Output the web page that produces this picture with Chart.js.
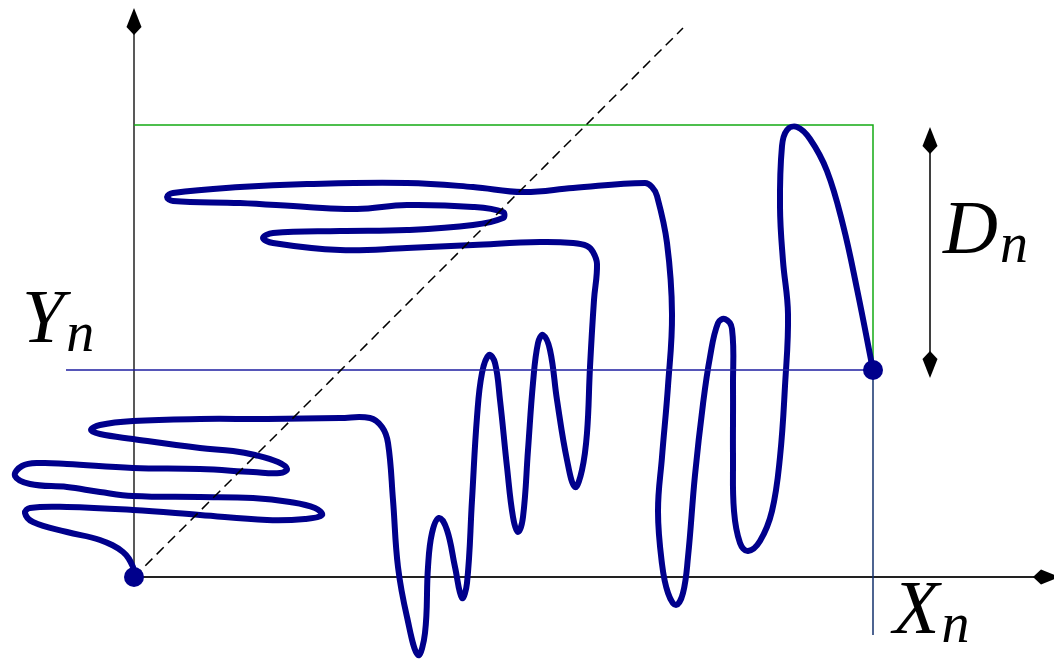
<!DOCTYPE html>
<html>
<head>
<meta charset="utf-8">
<script src="https://cdn.jsdelivr.net/npm/chart.js@4.4.1/dist/chart.umd.min.js"></script>
<style>
  body { margin: 0; background: #fff; }
  #wrap { width: 1054px; height: 661px; }
</style>
</head>
<body>
<div id="wrap"><canvas id="myChart" width="1054" height="661"></canvas></div>
<script>
// ..................................................     DATA     ......................................................

// the wandering path, origin at the lower dot
const pathX = [0, -1, -11, -34, -67, -101, -109, -104, -67, -1, 66, 133, 171, 188, 181, 156, 119, 66, -1, -34, -67, -104, -119, -112, -94, -67, -1, 66, 119, 146, 153, 144, 121, 99, 66, -1, -34, -43, -34, -1, 66, 133, 206, 236, 248, 254, 259, 264, 273, 284, 291, 294, 298, 305, 313, 321, 328, 333, 338, 343, 348, 355, 361, 366, 373, 379, 384, 389, 394, 399, 404, 409, 416, 423, 433, 441, 448, 453, 456, 460, 463, 459, 453, 439, 406, 339, 273, 206, 139, 129, 139, 206, 273, 339, 369, 369, 339, 273, 223, 173, 106, 39, 33, 39, 106, 173, 273, 339, 389, 439, 511, 518, 523, 533, 538, 534, 528, 524, 528, 534, 542, 549, 554, 561, 569, 576, 584, 591, 598, 599, 599, 600, 606, 614, 626, 638, 646, 651, 654, 649, 646, 648, 653, 663, 676, 693, 709, 723, 739];
const pathY = [0, 10, 25, 37, 45, 55, 64, 69, 70, 67, 62, 57, 58, 62, 69, 75, 79, 80, 81, 85, 90, 93, 101, 111, 114, 113, 109, 108, 105, 104, 108, 115, 122, 126, 129, 138, 143, 147, 152, 156, 158, 158, 159, 159, 150, 134, 77, 10, -40, -78, -56, 10, 44, 59, 47, 10, -21, -6, 77, 160, 204, 222, 214, 177, 110, 60, 45, 60, 127, 194, 234, 242, 227, 177, 117, 90, 107, 144, 210, 277, 313, 325, 331, 334, 335, 332, 329, 327, 334, 339, 344, 346, 347, 352, 359, 365, 370, 372, 368, 370, 374, 376, 380, 384, 390, 393, 394, 390, 385, 389, 394, 390, 381, 334, 263, 191, 120, 66, 13, -16, -28, -16, 20, 102, 173, 220, 254, 258, 248, 191, 120, 66, 34, 26, 36, 66, 120, 191, 263, 316, 370, 431, 447, 450, 438, 406, 352, 288, 207];

// X_n, Y_n and the top of the box
const Xn = 739;
const Yn = 207;
const boxTop = 452;
const dnX = 796;
const dnTop = 450;
const dnBottom = 199;

const axisX = [0, 900];
const axisY = [0, 545];
const diagX = [0, 549];
const diagY = [0, 549];

const labels = ['Y', 'D', 'X'];
const labelX = [-112, 809, 759];
const labelY = [235, 324, -56];

const navy = 'rgb(0,0,140)';

// ..................................................     EXTRAS (arrows + text)     ....................................

const extras = {
    id: 'extras',
    afterDatasetsDraw(chart) {
        const ctx = chart.ctx;
        const xs = chart.scales.x, ys = chart.scales.y;
        const px = v => xs.getPixelForValue(v);
        const py = v => ys.getPixelForValue(v);

        function arrow(x, y, dx, dy) {
            const tx = px(x), ty = py(y);
            const nx = -dy, ny = dx;
            ctx.beginPath();
            ctx.moveTo(tx, ty);
            ctx.lineTo(tx - 19 * dx + 7.5 * nx, ty - 19 * dy + 7.5 * ny);
            ctx.lineTo(tx - 27 * dx, ty - 27 * dy);
            ctx.lineTo(tx - 19 * dx - 7.5 * nx, ty - 19 * dy - 7.5 * ny);
            ctx.closePath();
            ctx.fillStyle = '#000';
            ctx.fill();
        }

        ctx.save();
        arrow(0, 569, 0, -1);
        arrow(926, 0, 1, 0);
        arrow(dnX, dnTop, 0, -1);
        arrow(dnX, dnBottom, 0, 1);

        ctx.fillStyle = '#000';
        ctx.textBaseline = 'alphabetic';
        ctx.textAlign = 'left';
        for (let i = 0; i < labels.length; i++) {
            const x = px(labelX[i]), y = py(labelY[i]);
            ctx.font = 'italic 76px "Liberation Serif"';
            ctx.fillText(labels[i], x, y);
            const w = ctx.measureText(labels[i]).width;
            ctx.font = 'italic 56px "Liberation Serif"';
            ctx.fillText('n', x + w + 2, y + 9);
        }
        ctx.restore();
    }
};

// ..................................................     CHART     ......................................................

function seg(xa, ya, xb, yb) {
    return [{ x: xa, y: ya }, { x: xb, y: yb }];
}

new Chart(document.getElementById('myChart'), {
    type: 'scatter',
    data: {
        datasets: [
            {
                // end dots
                data: [{ x: 0, y: 0 }, { x: Xn, y: Yn }],
                pointRadius: 10,
                pointBackgroundColor: navy,
                pointBorderWidth: 0,
                order: 0
            },
            {
                data: seg(diagX[0], diagY[0], diagX[1], diagY[1]),
                showLine: true, pointRadius: 0,
                borderColor: '#000', borderWidth: 1.5, borderDash: [10, 6],
                order: 1
            },
            {
                data: seg(-68, Yn, Xn, Yn),
                showLine: true, pointRadius: 0,
                borderColor: 'rgb(30,30,160)', borderWidth: 1.5,
                order: 2
            },
            {
                data: seg(Xn, Yn, Xn, -58),
                showLine: true, pointRadius: 0,
                borderColor: 'rgb(20,50,110)', borderWidth: 1.5,
                order: 2
            },
            {
                data: pathX.map((v, i) => ({ x: v, y: pathY[i] })),
                showLine: true, pointRadius: 0,
                borderColor: navy, borderWidth: 6,
                tension: 0.4, borderCapStyle: 'round', borderJoinStyle: 'round',
                order: 3
            },
            {
                // green box
                data: [{ x: 0, y: boxTop }, { x: Xn, y: boxTop }, { x: Xn, y: Yn }],
                showLine: true, pointRadius: 0,
                borderColor: 'rgb(20,170,20)', borderWidth: 1.5,
                order: 4
            },
            {
                data: seg(axisX[0], 0, axisX[1], 0),
                showLine: true, pointRadius: 0,
                borderColor: '#222', borderWidth: 1.8,
                order: 5
            },
            {
                data: seg(0, axisY[0], 0, axisY[1]),
                showLine: true, pointRadius: 0,
                borderColor: '#222', borderWidth: 1.5,
                order: 5
            },
            {
                data: seg(dnX, dnTop - 20, dnX, dnBottom + 20),
                showLine: true, pointRadius: 0,
                borderColor: '#000', borderWidth: 1.5,
                order: 5
            }
        ]
    },
    options: {
        responsive: false,
        animation: false,
        layout: { padding: 0, autoPadding: false },
        plugins: {
            legend: { display: false },
            tooltip: { enabled: false }
        },
        scales: {
            x: { type: 'linear', min: -134, max: 920, display: false },
            y: { type: 'linear', min: -84, max: 577, display: false }
        }
    },
    plugins: [extras]
});
</script>
</body>
</html>
